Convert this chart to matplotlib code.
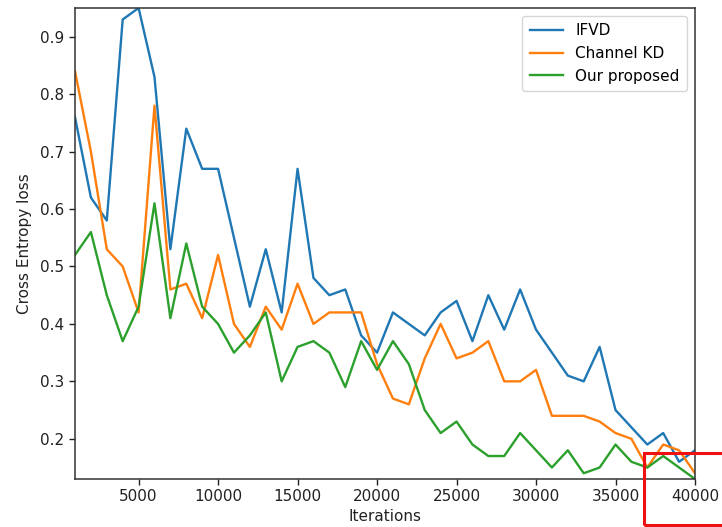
import numpy as np
import matplotlib
matplotlib.use("Agg")
import matplotlib.pyplot as plt
from matplotlib.patches import Rectangle

iterations = list(range(1000, 41000, 1000))

ifvd = [0.76, 0.62, 0.58, 0.93, 0.95, 0.83, 0.53, 0.74, 0.67, 0.67,
        0.55, 0.43, 0.53, 0.42, 0.67, 0.48, 0.45, 0.46, 0.38, 0.35,
        0.42, 0.40, 0.38, 0.42, 0.44, 0.37, 0.45, 0.39, 0.46, 0.39,
        0.35, 0.31, 0.30, 0.36, 0.25, 0.22, 0.19, 0.21, 0.16, 0.18]

channel_kd = [0.84, 0.70, 0.53, 0.50, 0.42, 0.78, 0.46, 0.47, 0.41, 0.52,
              0.40, 0.36, 0.43, 0.39, 0.47, 0.40, 0.42, 0.42, 0.42, 0.33,
              0.27, 0.26, 0.34, 0.40, 0.34, 0.35, 0.37, 0.30, 0.30, 0.32,
              0.24, 0.24, 0.24, 0.23, 0.21, 0.20, 0.15, 0.19, 0.18, 0.14]

proposed = [0.52, 0.56, 0.45, 0.37, 0.43, 0.61, 0.41, 0.54, 0.43, 0.40,
            0.35, 0.38, 0.42, 0.30, 0.36, 0.37, 0.35, 0.29, 0.37, 0.32,
            0.37, 0.33, 0.25, 0.21, 0.23, 0.19, 0.17, 0.17, 0.21, 0.18,
            0.15, 0.18, 0.14, 0.15, 0.19, 0.16, 0.15, 0.17, 0.15, 0.13]

series_labels = ["IFVD", "Channel KD", "Our proposed"]

W, H = 722, 527
fig = plt.figure(figsize=(W / 100, H / 100), dpi=100)
ax = fig.add_axes([75 / W, (H - 479) / H, (695 - 75) / W, (479 - 8) / H])

lw = 1.7
ax.plot(iterations, ifvd, color="#1f77b4", lw=lw, label=series_labels[0])
ax.plot(iterations, channel_kd, color="#ff7f0e", lw=lw, label=series_labels[1])
ax.plot(iterations, proposed, color="#2ca02c", lw=lw, label=series_labels[2])

ax.set_xlim(min(iterations), max(iterations))
allv = ifvd + channel_kd + proposed
ax.set_ylim(min(allv), max(allv))
ax.set_xticks([5000, 10000, 15000, 20000, 25000, 30000, 35000, 40000])
ax.set_yticks([0.2, 0.3, 0.4, 0.5, 0.6, 0.7, 0.8, 0.9])

fs = 11
ax.tick_params(labelsize=fs, length=4, width=1.0, colors="#222222")
for s in ax.spines.values():
    s.set_linewidth(1.1)
    s.set_color("#333333")
ax.set_xlabel("Iterations", fontsize=fs, color="#222222", labelpad=3)
ax.set_ylabel("Cross Entropy loss", fontsize=fs, color="#222222", labelpad=6)

leg = ax.legend(loc="upper right", fontsize=fs, handlelength=2.2,
                borderpad=0.5, labelspacing=0.5, framealpha=0.8)

rect = Rectangle((644 / W, (H - 525) / H), 100 / W, (525 - 453) / H,
                 transform=fig.transFigure, fill=False, edgecolor="#ee1111",
                 lw=2.2, clip_on=False)
fig.patches.append(rect)

fig.savefig("out.png", dpi=100)
